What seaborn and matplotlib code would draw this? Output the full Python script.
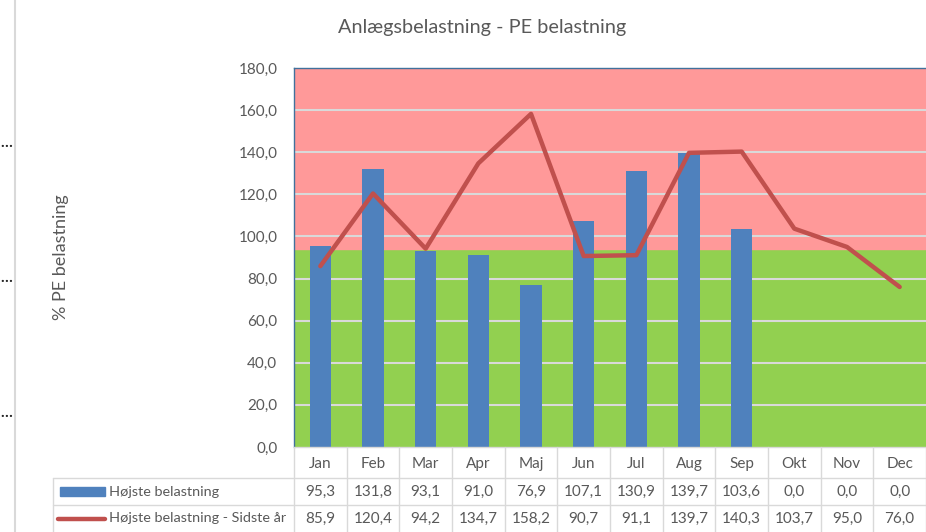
"""Anlægsbelastning - PE belastning: bars + line with data table below."""

import matplotlib.pyplot as plt
import numpy as np
import pandas as pd
import seaborn as sns
from matplotlib.lines import Line2D
from matplotlib.patches import Rectangle

months = ["Jan", "Feb", "Mar", "Apr", "Maj", "Jun", "Jul", "Aug", "Sep", "Okt", "Nov", "Dec"]
hojeste = [95.3, 131.8, 93.1, 91.0, 76.9, 107.1, 130.9, 139.7, 103.6, 0.0, 0.0, 0.0]
sidste_aar = [85.9, 120.4, 94.2, 134.7, 158.2, 90.7, 91.1, 139.7, 140.3, 103.7, 95.0, 76.0]
series_names = ["Højste belastning", "Højste belastning - Sidste år"]
green_limit = 94.0
y_max = 180.0
y_ticks = np.arange(0, 181, 20)

BLUE = "#4F81BD"
RED = "#C0504D"
GREEN_BAND = "#92D050"
RED_BAND = "#FF9999"
GRID = "#D9D9D9"
TEXT = "#595959"

sns.set_theme(style="white")
plt.rcParams["font.family"] = ["Lato", "DejaVu Sans"]

W, H = 926, 532
fig = plt.figure(figsize=(W / 100, H / 100), dpi=100)

# plot area in pixel coordinates of the reference
px_left, px_right, px_top, px_bottom = 294, 926, 68, 447
ax = fig.add_axes([px_left / W, 1 - px_bottom / H, (px_right - px_left) / W, (px_bottom - px_top) / H])

df = pd.DataFrame({"month": months, "hojeste": hojeste, "sidste": sidste_aar})
df["pos"] = np.arange(len(months))

ax.axhspan(0, green_limit, color=GREEN_BAND, zorder=0)
ax.axhspan(green_limit, y_max, color=RED_BAND, zorder=0)
for t in y_ticks[1:-1]:
    ax.axhline(t, color=GRID, lw=1.5, zorder=1)

sns.barplot(data=df, x="pos", y="hojeste", color=BLUE, width=0.4, saturation=1,
            native_scale=True, linewidth=0, ax=ax, zorder=2)
sns.lineplot(data=df, x="pos", y="sidste", color=RED, lw=3.2, ax=ax, zorder=3,
             solid_capstyle="round")

ax.set_xlim(-0.5, len(months) - 0.5)
ax.set_ylim(0, y_max)
ax.set_yticks(y_ticks)
ax.set_yticklabels([f"{t:.1f}".replace(".", ",") for t in y_ticks], color=TEXT, fontsize=11)
ax.tick_params(axis="y", length=0, pad=12)
ax.set_xticks([])
ax.set_xlabel("")
ax.set_ylabel("% PE belastning", color=TEXT, fontsize=13, labelpad=0)
ax.yaxis.set_label_coords(-(px_left - 69) / (px_right - px_left), 0.5)
for side in ["right", "bottom"]:
    ax.spines[side].set_visible(False)
ax.spines["left"].set_color("#41719C")
ax.spines["top"].set_color("#41719C")
ax.spines["left"].set_linewidth(1)
ax.spines["top"].set_linewidth(1)

fig.text(482 / W, 1 - 27 / H, "Anlægsbelastning - PE belastning", ha="center", va="center",
         color=TEXT, fontsize=14.3)

# data table below the plot, in month units horizontally and pixels vertically
col_w = (px_right - px_left) / len(months)
tbl_left_px = 53
tax = fig.add_axes([tbl_left_px / W, 0, (W - tbl_left_px) / W, (H - px_bottom) / H])
x_left = -0.5 - (px_left - tbl_left_px) / col_w
tax.set_xlim(x_left, len(months) - 0.5)
tax.set_ylim(H - px_bottom, 0)
tax.axis("off")

row_edges = [0, 31, 58, 85]
line_kw = dict(color=GRID, lw=1, clip_on=False)
for k in range(len(months) + 1):
    tax.plot([k - 0.5, k - 0.5], [row_edges[0], row_edges[-1]], **line_kw)
tax.plot([x_left, x_left], [row_edges[1], row_edges[-1]], **line_kw)
tax.plot([-0.5, len(months) - 0.5], [row_edges[0], row_edges[0]], **line_kw)
for y in row_edges[1:3]:
    tax.plot([x_left, len(months) - 0.5], [y, y], **line_kw)

fmt = lambda v: f"{v:.1f}".replace(".", ",")
for i, m in enumerate(months):
    tax.text(i, 17, m, ha="center", va="center", color=TEXT, fontsize=11)
    tax.text(i, 44.5, fmt(hojeste[i]), ha="center", va="center", color=TEXT, fontsize=11)
    tax.text(i, 71.5, fmt(sidste_aar[i]), ha="center", va="center", color=TEXT, fontsize=11)

sw0 = x_left + 7 / col_w
sw1 = x_left + 52 / col_w
tax.add_patch(Rectangle((sw0, 40), sw1 - sw0, 9, color=BLUE, clip_on=False))
tax.plot([x_left + 5 / col_w, x_left + 52 / col_w], [72, 72], color=RED, lw=3.2,
         solid_capstyle="round", clip_on=False)
tax.text(x_left + 56 / col_w, 44.5, series_names[0], ha="left", va="center", color=TEXT, fontsize=10.4)
tax.text(x_left + 56 / col_w, 71.5, series_names[1], ha="left", va="center", color=TEXT, fontsize=10.4)

# frame edge and truncated labels at the far left
fig.add_artist(Line2D([15 / W, 15 / W], [0, 1], color=GRID, lw=1.5))
for yp in [143, 278, 413]:
    fig.text(0, 1 - yp / H, "…", ha="left", va="center", color="#222222", fontsize=11,
             fontweight="bold")

fig.savefig("out.png", dpi=100)
